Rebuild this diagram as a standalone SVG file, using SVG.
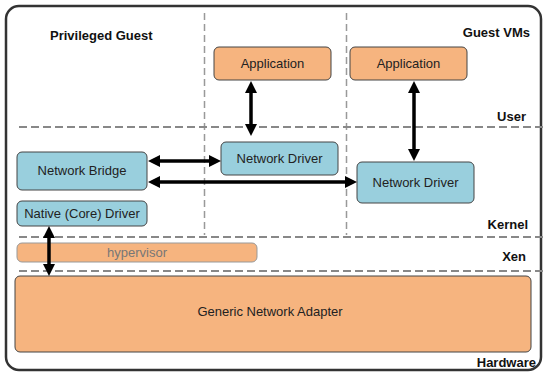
<svg xmlns="http://www.w3.org/2000/svg" width="543" height="373" viewBox="0 0 543 373">
<defs>
<style>
.t{font-family:"Liberation Sans",Arial,sans-serif;font-size:13px;fill:#222;text-anchor:middle}
.lb{font-family:"Liberation Sans",Arial,sans-serif;font-size:13px;font-weight:bold;fill:#111}
.r{text-anchor:end}
.org{fill:#F6B47F;stroke:#444;stroke-width:1}
.blu{fill:#99CFDD;stroke:#444;stroke-width:1}
.hd{stroke:#888;stroke-width:2;stroke-dasharray:8 4;fill:none}
.vd{stroke:#999;stroke-width:1.5;stroke-dasharray:7 4;fill:none}
.ar{stroke:#000;stroke-width:3.5;fill:none;marker-start:url(#ah);marker-end:url(#ah)}
</style>
<marker id="ah" viewBox="0 -6 12 12" refX="0" refY="0" markerWidth="12" markerHeight="12" markerUnits="userSpaceOnUse" orient="auto-start-reverse">
<path d="M0,-6 L12,0 L0,6 z" fill="#000"/>
</marker>
</defs>
<rect x="6" y="6" width="535" height="364" rx="13" fill="#fff" stroke="#333" stroke-width="2.5"/>
<g id="separators">
<line class="vd" x1="204.5" y1="13" x2="204.5" y2="235"/>
<line class="vd" x1="346.5" y1="13" x2="346.5" y2="235"/>
<line class="hd" x1="19" y1="127" x2="543" y2="127"/>
<line class="hd" x1="19" y1="237" x2="543" y2="237"/>
<line class="hd" x1="19" y1="271" x2="543" y2="271"/>
</g>
<g id="labels">
<text class="lb" x="50" y="40">Privileged Guest</text>
<text class="lb r" x="530" y="37">Guest VMs</text>
<text class="lb r" x="526" y="121">User</text>
<text class="lb r" x="528" y="229">Kernel</text>
<text class="lb r" x="526" y="261">Xen</text>
<text class="lb r" x="536" y="367">Hardware</text>
</g>
<g id="app1"><rect class="org" x="214" y="47" width="117" height="33" rx="5"/><text class="t" x="272.5" y="68">Application</text></g>
<g id="app2"><rect class="org" x="350" y="47" width="117" height="33" rx="5"/><text class="t" x="408.5" y="68">Application</text></g>
<g id="netdrv1"><rect class="blu" x="221" y="142" width="117" height="33" rx="5"/><text class="t" x="279.5" y="163">Network Driver</text></g>
<g id="netdrv2"><rect class="blu" x="357" y="162" width="117" height="41" rx="5"/><text class="t" x="415.5" y="187">Network Driver</text></g>
<g id="bridge"><rect class="blu" x="17" y="152" width="130" height="38" rx="5"/><text class="t" x="82" y="175">Network Bridge</text></g>
<g id="native"><rect class="blu" x="17" y="201" width="130" height="25" rx="5"/><text class="t" x="82" y="218">Native (Core) Driver</text></g>
<g id="hypervisor"><rect x="17" y="243" width="240" height="19" rx="5" fill="#F6B47F" stroke="#999" stroke-width="1"/><text class="t" x="137" y="257" style="fill:#777">hypervisor</text></g>
<g id="adapter"><rect class="org" x="15" y="276" width="516" height="76" rx="5"/><text class="t" x="270" y="316">Generic Network Adapter</text></g>
<g id="connectors">
<line class="ar" x1="251" y1="93" x2="251" y2="124"/>
<line class="ar" x1="414" y1="93" x2="414" y2="149"/>
<line class="ar" x1="160" y1="161" x2="209" y2="161"/>
<line class="ar" x1="160" y1="182" x2="345" y2="182"/>
<line class="ar" x1="49" y1="238" x2="49" y2="264"/>
</g>
</svg>
